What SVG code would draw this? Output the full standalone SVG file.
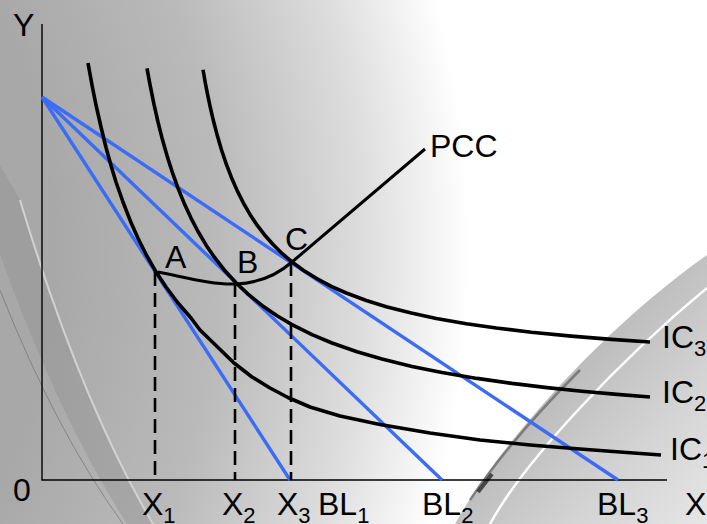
<svg xmlns="http://www.w3.org/2000/svg" width="707" height="524" viewBox="0 0 707 524">
<style>
.t{font-family:"Liberation Sans",Arial,sans-serif;font-size:32px;fill:#000}
.s{font-size:22px}
.ic{fill:none;stroke:#000;stroke-width:3.6;stroke-linejoin:round;stroke-linecap:butt}
.bl{fill:none;stroke:#3b6cf6;stroke-width:3.4;stroke-linecap:butt}
.ax{fill:none;stroke:#000;stroke-width:1.4}
.dash{fill:none;stroke:#000;stroke-width:2.6;stroke-dasharray:14 7}
</style>
<defs>
<radialGradient id="bg" cx="-500" cy="250" r="1000" gradientUnits="userSpaceOnUse">
<stop offset="0.55" stop-color="#a8a8a8"/>
<stop offset="0.72" stop-color="#bababa"/>
<stop offset="0.86" stop-color="#dcdcdc"/>
<stop offset="0.97" stop-color="#ffffff"/>
</radialGradient>
<linearGradient id="dome" x1="560" y1="390" x2="707" y2="524" gradientUnits="userSpaceOnUse">
<stop offset="0" stop-color="#bdbdbd"/>
<stop offset="0.5" stop-color="#d4d4d4"/>
<stop offset="1" stop-color="#e6e6e6"/>
</linearGradient>
</defs>
<g id="background">
<rect width="707" height="524" fill="url(#bg)"/>
<path d="M0,255 Q60,420 127,524 L153,524 Q80,400 20,200 L0,165 Z" fill="#8f8f8f" opacity="0.4"/>
<path d="M0,290 Q55,430 123,524" fill="none" stroke="#6a6a6a" stroke-width="1" opacity="0.6"/>
<path d="M20,200 Q80,400 153,524" fill="none" stroke="#d2d2d2" stroke-width="2"/>
<path d="M455,524 C495,450 600,330 707,255 L707,524 Z" fill="url(#dome)"/>
<path d="M490,524 C525,460 620,360 707,288" fill="none" stroke="#ffffff" stroke-width="2.5"/>
<path d="M470,500 C500,455 540,410 580,370" fill="none" stroke="#505050" stroke-width="2.5" opacity="0.6"/>
<path d="M478,492 L492,474" fill="none" stroke="#2a2a2a" stroke-width="4" opacity="0.8"/>
</g>
<g id="axes">
<path class="ax" d="M42,24 V480 H667"/>
</g>
<g id="connectors">
<path id="BL1" class="bl" d="M42,97 L290,480"/>
<path id="BL2" class="bl" d="M42,97 L442,480"/>
<path id="BL3" class="bl" d="M42,97 L618,480"/>
<path class="dash" d="M155,272 V480"/>
<path class="dash" d="M235,283 V480"/>
<path class="dash" d="M291,262 V480"/>
</g>
<g id="IC1">
<path class="ic" d="M88,63 L92,85 L96,105 L101,127 L106,147.5 L111,165.5 L116,182 L123,202 L131,222.6 L138,238.3 L146,254.3 L155,270.2 L166,287 L178,303 L191,318 L200,330 L217,346.5 L234,363 L252,377 L270,388 L288,397.5 L310,407 L340,416 L380,424.5 L430,433 L480,440 L530,445 L580,449 L620,452 L661,455"/>
<text class="t" x="670" y="460">IC<tspan class="s" dy="8">1</tspan></text>
</g>
<g id="IC2">
<path class="ic" d="M147,68.3 L150,84.6 L154,104.4 L158,122 L162,137.9 L167,155.6 L172,171.4 L178,188.1 L184,202.9 L191,218.1 L198,231.5 L206,244.9 L214,256.7 L225,270.8 L236,282.8 L248,294.1 L262,305.4 L277,315.8 L292,324.6 L312,334.6 L332,343 L357,351.8 L382,359.1 L412,366.4 L442,372.5 L477,378.4 L512,383.4 L547,387.6 L582,391.2 L617,394.4 L650,397"/>
<text class="t" x="662" y="403">IC<tspan class="s" dy="8">2</tspan></text>
</g>
<g id="IC3">
<path class="ic" d="M203,69.8 L205.3,82.8 L207.3,93.1 L210.3,107.4 L213.3,120.3 L217.3,135.6 L221.3,149.2 L226.3,164.2 L231.3,177.2 L237.3,190.9 L243.3,202.8 L250.3,214.9 L257.3,225.4 L265.3,235.8 L273.3,244.8 L282.3,253.7 L292,261.9 L303.3,270.2 L316.3,278.3 L331.3,286.3 L346.3,293 L366.3,300.5 L386.3,306.7 L411.3,313.1 L436.3,318.4 L466.3,323.7 L496.3,328 L531.3,332.2 L571.3,336.1 L611.3,339.4 L650,342"/>
<text class="t" x="662" y="348">IC<tspan class="s" dy="8">3</tspan></text>
</g>
<g id="PCC">
<path class="ic" style="stroke-width:3" d="M158,272 C188,278 214,285 236,284 C258,283 276,276 292,262 L425,149"/>
<text class="t" x="430" y="157">PCC</text>
</g>
<g id="point-A"><text class="t" x="165" y="268">A</text></g>
<g id="point-B"><text class="t" x="237" y="273">B</text></g>
<g id="point-C"><text class="t" x="285" y="250">C</text></g>
<g id="labels">
<text class="t" x="13" y="36">Y</text>
<text class="t" x="13" y="501">0</text>
<text class="t" x="142" y="515">X<tspan class="s" dy="8">1</tspan></text>
<text class="t" x="222" y="515">X<tspan class="s" dy="8">2</tspan></text>
<text class="t" x="277" y="515">X<tspan class="s" dy="8">3</tspan></text>
<text class="t" x="318" y="515">BL<tspan class="s" dy="8">1</tspan></text>
<text class="t" x="422" y="515">BL<tspan class="s" dy="8">2</tspan></text>
<text class="t" x="597" y="515">BL<tspan class="s" dy="8">3</tspan></text>
<text class="t" x="685" y="515">X</text>
</g>
</svg>
